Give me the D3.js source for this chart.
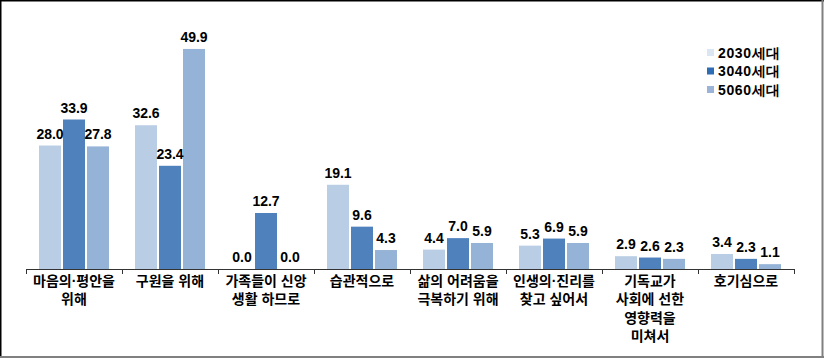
<!DOCTYPE html>
<html>
<head>
<meta charset="utf-8">
<script src="https://cdn.jsdelivr.net/npm/d3@7"></script>
<style>
  html, body { margin: 0; padding: 0; background: #fff; }
  svg { display: block; }
</style>
</head>
<body>
<svg id="chart" width="824" height="358"></svg>
<script>
const categories = [
  "마음의·평안을\n위해",
  "구원을 위해",
  "가족들이 신앙\n생활 하므로",
  "습관적으로",
  "삶의 어려움을\n극복하기 위해",
  "인생의·진리를\n찾고 싶어서",
  "기독교가\n사회에 선한\n영향력을\n미쳐서",
  "호기심으로"
];
const seriesNames = ["2030세대", "3040세대", "5060세대"];
const values2030 = [28.0, 32.6, 0.0, 19.1, 4.4, 5.3, 2.9, 3.4];
const values3040 = [33.9, 23.4, 12.7, 9.6, 7.0, 6.9, 2.6, 2.3];
const values5060 = [27.8, 49.9, 0.0, 4.3, 5.9, 5.9, 2.3, 1.1];
const barColors = ["#b9cde5", "#4f81bd", "#95b3d7"];
const legendColors = ["#dce6f2", "#2e6db4", "#9bb3d6"];

const seriesValues = [values2030, values3040, values5060];
const svg = d3.select("#chart");

// frame
svg.append("line").attr("x1", 0.75).attr("y1", 0).attr("x2", 0.75).attr("y2", 358).attr("stroke", "#000").attr("stroke-width", 1.5);
svg.append("line").attr("x1", 0).attr("y1", 0.75).attr("x2", 824).attr("y2", 0.75).attr("stroke", "#000").attr("stroke-width", 1.5);
svg.append("line").attr("x1", 822.5).attr("y1", 0).attr("x2", 822.5).attr("y2", 358).attr("stroke", "#808080").attr("stroke-width", 2);
svg.append("line").attr("x1", 0).attr("y1", 357).attr("x2", 824).attr("y2", 357).attr("stroke", "#808080").attr("stroke-width", 2);

const x0 = d3.scaleBand().domain(categories).range([26, 794]).padding(0);
const x1 = d3.scaleBand().domain(seriesNames).range([13, 83]).paddingInner(2 / 24).paddingOuter(0);
const y = d3.scaleLinear().domain([0, 50]).range([269, 48.5]);

const rows = categories.map((c, i) => ({ cat: c, vals: seriesNames.map((s, j) => ({ s, j, v: seriesValues[j][i] })) }));

const groups = svg.append("g").selectAll("g").data(rows).join("g")
  .attr("transform", d => `translate(${x0(d.cat)},0)`);

groups.selectAll("rect").data(d => d.vals).join("rect")
  .attr("x", d => x1(d.s))
  .attr("width", x1.bandwidth())
  .attr("y", d => y(d.v))
  .attr("height", d => y(0) - y(d.v))
  .attr("fill", d => barColors[d.j]);

groups.selectAll("text.val").data(d => d.vals).join("text")
  .attr("class", "val")
  .attr("x", d => x1(d.s) + x1.bandwidth() / 2)
  .attr("y", d => y(d.v) - 7)
  .attr("text-anchor", "middle")
  .attr("font-family", "'Liberation Sans', Arial, sans-serif")
  .attr("font-weight", "bold")
  .attr("font-size", 14)
  .attr("fill", "#000")
  .text(d => d.v.toFixed(1));

// axis
const axisG = svg.append("g").attr("transform", `translate(0,${y(0)})`);
axisG.append("line").attr("x1", 26).attr("x2", 794).attr("y1", 0.5).attr("y2", 0.5).attr("stroke", "#333").attr("stroke-width", 1);
const tickPos = categories.map(c => x0(c)).concat([x0.range()[1]]);
axisG.selectAll("line.tick").data(tickPos).join("line")
  .attr("class", "tick")
  .attr("x1", d => Math.round(d) + 0.5).attr("x2", d => Math.round(d) + 0.5)
  .attr("y1", 0).attr("y2", 5)
  .attr("stroke", "#333");

// category labels
const labels = svg.append("g").selectAll("text").data(categories).join("text")
  .attr("x", d => x0(d) + x0.bandwidth() / 2)
  .attr("y", 286)
  .attr("text-anchor", "middle")
  .attr("font-family", "'Liberation Sans', 'Noto Sans CJK KR', sans-serif")
  .attr("font-weight", "bold")
  .attr("font-size", 14)
  .attr("fill", "#000");
labels.each(function(d) {
  const t = d3.select(this);
  d.split("\n").forEach((line, i) => {
    t.append("tspan").attr("x", x0(d) + x0.bandwidth() / 2).attr("dy", i === 0 ? 0 : 18.3).text(line);
  });
});

// legend
const legend = svg.append("g").selectAll("g").data(seriesNames).join("g")
  .attr("transform", (d, i) => `translate(707,${52.5 + i * 18.5})`);
legend.append("rect").attr("x", 0).attr("y", -3.5).attr("width", 7).attr("height", 7)
  .attr("fill", (d, i) => legendColors[i]);
legend.append("text").attr("x", 11).attr("y", 5)
  .attr("font-family", "'Liberation Sans', Arial, sans-serif")
  .attr("font-weight", "bold")
  .attr("font-size", 14)
  .attr("letter-spacing", 0.6)
  .attr("fill", "#000")
  .text(d => d);
</script>
</body>
</html>
